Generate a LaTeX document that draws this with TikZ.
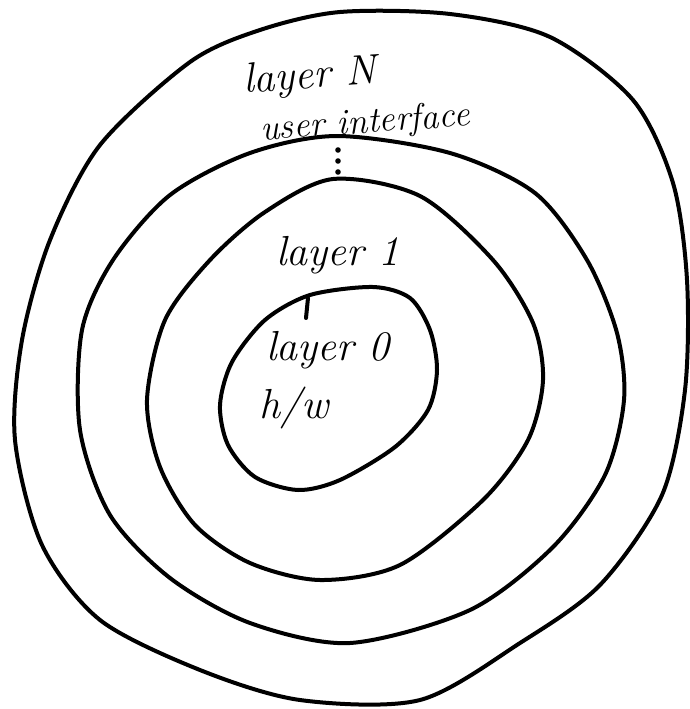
\documentclass[tikz,border=0pt]{standalone}
\usepackage{fontspec}
\usepackage{tikz}
\tikzset{
  ring line/.style={
    line width=4pt,
    line join=round,
    line cap=round,
  },
  ring label/.style={
    font=\itshape\fontsize{42}{46}\selectfont,
    inner sep=0pt,
  },
  small label/.style={
    ring label,
    font=\itshape\fontsize{36}{40}\selectfont,
  },
  ring dot/.style={fill=black},
}
\begin{document}
\begin{tikzpicture}[x=1pt,y=-1pt]
  \useasboundingbox (0,0) rectangle (690,709);
  % outer ring: layer N
  \draw[ring line] plot[smooth cycle] coordinates {
    (340,12) (450,14) (550,37) (633,100) (673,183) (687,280)
    (685,390) (662,495) (600,585) (520,643) (420,700) (300,700)
    (200,670) (100,620) (42,545) (15,440) (22,340) (50,240)
    (100,145) (190,62) (260,30)};
  \draw[ring line] plot[smooth cycle] coordinates {
    (337,136) (450,153) (535,193) (587,260) (617,333) (624,400)
    (605,475) (553,547) (470,610) (350,643) (250,623) (170,578)
    (110,515) (80,430) (82,330) (113,260) (170,195) (250,153)};
  % layer 1
  \draw[ring line] plot[smooth cycle] coordinates {
    (333,179) (420,196) (493,260) (533,323) (543,380) (528,440)
    (483,500) (400,565) (320,580) (250,563) (195,525) (160,467)
    (147,400) (165,320) (210,260) (265,212)};
  % layer 0
  \draw[ring line] plot[smooth cycle] coordinates {
    (310,295) (373,287) (410,298) (430,330) (437,370) (428,410)
    (395,447) (340,480) (298,490) (255,477) (228,445) (220,405)
    (232,362) (265,320)};
  \draw[ring line] (308,298) -- (306,318);
  \foreach \y in {150,161,172}
    \fill[ring dot] (338,\y) circle (2.8);
  \node[ring label, rotate=4] (layerN) at (310,78) {layer N};
  \node[small label, rotate=4] (ui) at (365,124) {user interface};
  \node[ring label] (layerone) at (338,255) {layer 1};
  \node[ring label] (layerzero) at (328,350) {layer 0};
  \node[ring label] (hw) at (294,408) {h/w};
\end{tikzpicture}
\end{document}
